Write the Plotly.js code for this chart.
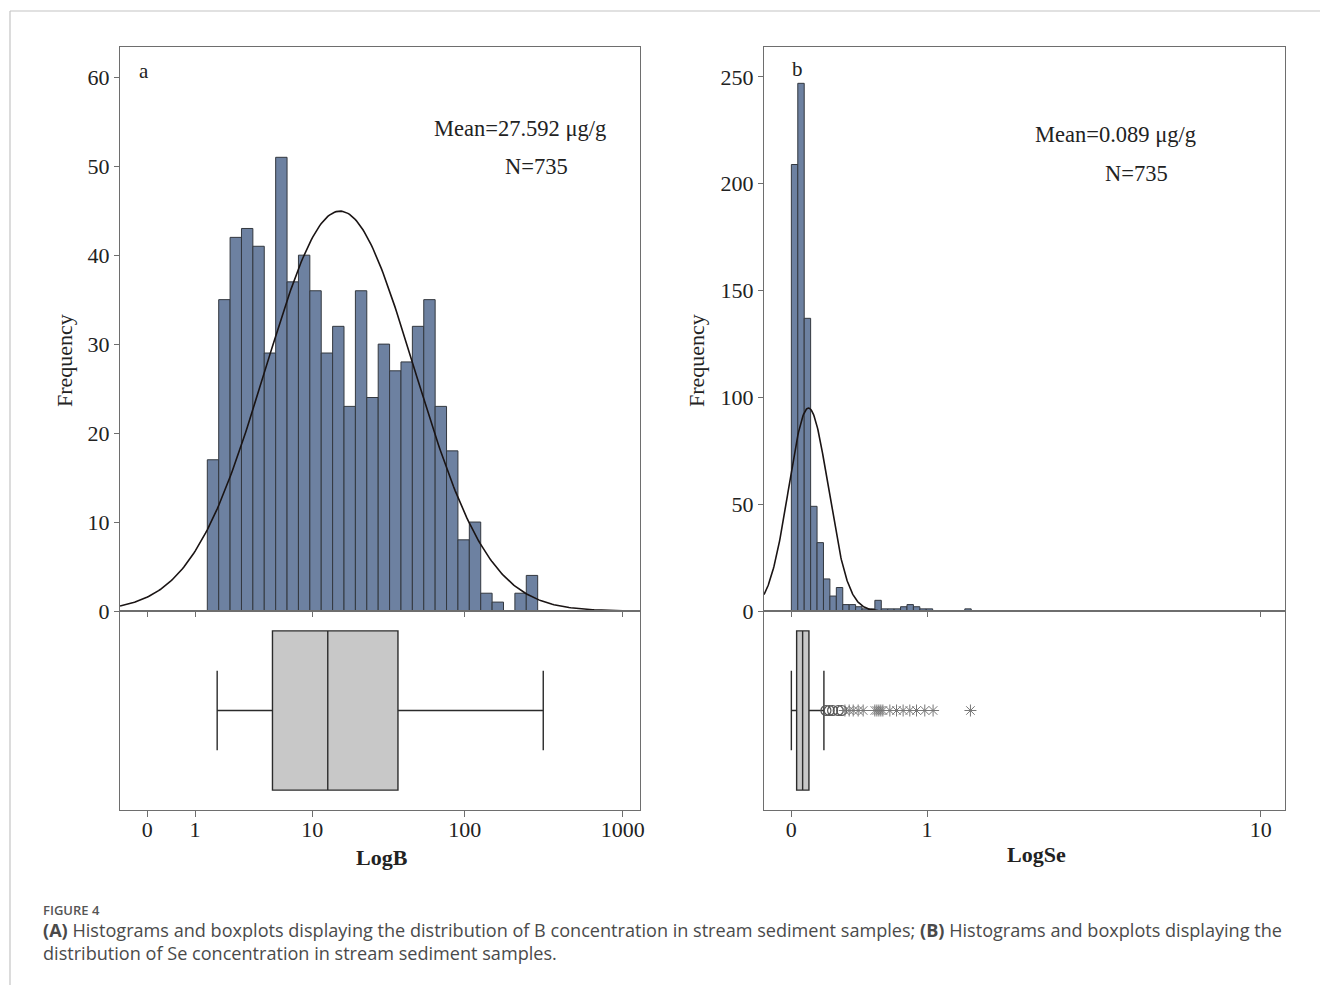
<!DOCTYPE html>
<html>
<head>
<meta charset="utf-8">
<script src="https://cdn.plot.ly/plotly-3.0.1.min.js"></script>
<style>
html,body{margin:0;padding:0;background:#fff;}
#chart{width:1320px;height:985px;}
</style>
</head>
<body>
<div id="chart"></div>
<script>
// ---------- data ----------
// Axis values are log10(value + 1); tick labels show the raw concentration.
const xTickLabelsB = ["0", "1", "10", "100", "1000"];
const xTickLabelsSe = ["0", "1", "10"];
const yTicksB = [0, 10, 20, 30, 40, 50, 60];
const yTicksSe = [0, 50, 100, 150, 200, 250];

// B histogram (29 equal bins in log units)
const bBinStart = 0.3787;
const bBinWidth = 0.0719;
const bCounts = [17, 35, 42, 43, 41, 29, 51, 37, 40, 36, 29, 32, 23, 36, 24, 30, 27, 28, 32, 35, 23, 18, 8, 10, 2, 1, 0, 2, 4];

// Se histogram (28 equal bins in log units)
const seBinStart = 0.0;
const seBinWidth = 0.01425;
const seCounts = [209, 247, 137, 49, 32, 15, 7, 11, 3, 3, 2, 1, 1, 5, 1, 1, 1, 2, 3, 2, 1, 1, 0, 0, 0, 0, 0, 1];

// fitted normal curves (log units)
const bNormal = {mean: 1.216, sd: 0.469, from: -0.172, to: 3.0};
const seNormal = {mean: 0.038, sd: 0.044, from: -0.0607, to: 0.31};
const sampleN = 735;

// box statistics (log units): lower whisker, Q1, median, Q3, upper whisker
const bBox = [0.441, 0.790, 1.139, 1.582, 2.499];
const seBox = [0.0, 0.0117, 0.025, 0.039, 0.0722];
const seOutliersMild = [0.0767, 0.0840, 0.0915, 0.1039, 0.1115];
const seOutliersExtreme = [0.1188, 0.1283, 0.1372, 0.1482, 0.1593, 0.1852, 0.1897, 0.1941, 0.1985, 0.2030, 0.2185, 0.2333, 0.2479, 0.2628, 0.2776, 0.2960, 0.3144, 0.3973];

const meanTextB = "Mean=27.592 μg/g";
const meanTextSe = "Mean=0.089 μg/g";
const nText = "N=735";
const yTitle = "Frequency";
const xTitleB = "LogB";
const xTitleSe = "LogSe";

// ---------- helpers ----------
const W = 1320, H = 985;
const px = x => x / W;
const py = y => 1 - y / H;
const toLog = v => Math.log10(v + 1);

function centers(start, w, n) { const a = []; for (let i = 0; i < n; i++) a.push(start + (i + 0.5) * w); return a; }
function normalCurve(p, w) {
  const xs = [], ys = [];
  const steps = 300;
  for (let i = 0; i <= steps; i++) {
    const x = p.from + (p.to - p.from) * i / steps;
    const z = (x - p.mean) / p.sd;
    xs.push(x);
    ys.push(sampleN * w * Math.exp(-0.5 * z * z) / (p.sd * Math.sqrt(2 * Math.PI)));
  }
  return {xs, ys};
}

const SERIF = "Liberation Serif, Times New Roman, serif";
const barFill = "#6d81a1";
const barLine = "#33383f";
const frame = "#6e6e6e";
const curveColor = "#1a1414";

const bCurve = normalCurve(bNormal, bBinWidth);
const seCurve = normalCurve(seNormal, seBinWidth);

const traces = [
  {type: "bar", x: centers(bBinStart, bBinWidth, bCounts.length), y: bCounts, width: bBinWidth,
   marker: {color: barFill, line: {color: barLine, width: 1}}, xaxis: "x", yaxis: "y", hoverinfo: "y"},
  {type: "scatter", mode: "lines", x: bCurve.xs, y: bCurve.ys, line: {color: curveColor, width: 1.6},
   xaxis: "x", yaxis: "y", hoverinfo: "skip"},
  {type: "box", orientation: "h", y: [0], q1: [bBox[1]], median: [bBox[2]], q3: [bBox[3]],
   lowerfence: [bBox[0]], upperfence: [bBox[4]], width: 1.6, whiskerwidth: 0.5,
   fillcolor: "#c8c8c8", line: {color: "#2b2b2b", width: 1.4}, boxpoints: false,
   xaxis: "x2", yaxis: "y2"},

  {type: "bar", x: centers(seBinStart, seBinWidth, seCounts.length), y: seCounts, width: seBinWidth,
   marker: {color: barFill, line: {color: barLine, width: 1}}, xaxis: "x3", yaxis: "y3", hoverinfo: "y"},
  {type: "scatter", mode: "lines", x: seCurve.xs, y: seCurve.ys, line: {color: curveColor, width: 1.6},
   xaxis: "x3", yaxis: "y3", hoverinfo: "skip"},
  {type: "box", orientation: "h", y: [0], q1: [seBox[1]], median: [seBox[2]], q3: [seBox[3]],
   lowerfence: [seBox[0]], upperfence: [seBox[4]], width: 1.6, whiskerwidth: 0.5,
   fillcolor: "#c8c8c8", line: {color: "#2b2b2b", width: 1.4}, boxpoints: false,
   xaxis: "x4", yaxis: "y4"},
  {type: "scatter", mode: "markers", x: seOutliersMild, y: seOutliersMild.map(() => 0),
   marker: {symbol: "circle-open", size: 10, color: "#555", line: {width: 1.2, color: "#555"}},
   xaxis: "x4", yaxis: "y4"},
  {type: "scatter", mode: "markers", x: seOutliersExtreme, y: seOutliersExtreme.map(() => 0),
   marker: {symbol: "asterisk-open", size: 10, color: "#777", line: {width: 1, color: "#777"}},
   xaxis: "x4", yaxis: "y4"}
];

const tickFont = {family: SERIF, size: 22, color: "#222"};

function histX(domain, range, tickLabels) {
  return {domain, range, tickvals: tickLabels.map(t => toLog(Number(t))),
    ticktext: tickLabels, showticklabels: false, ticks: "outside", ticklen: 5, tickcolor: frame,
    showline: true, linecolor: frame, linewidth: 1, mirror: true, showgrid: false, zeroline: false, fixedrange: true};
}
function histY(domain, range, ticks) {
  return {domain, range, tickvals: ticks, ticks: "outside", ticklen: 5, tickcolor: frame,
    tickfont: tickFont, showline: true, linecolor: frame, linewidth: 1, mirror: true,
    showgrid: false, zeroline: false, fixedrange: true};
}
function boxX(domain, range, tickLabels, match) {
  return {domain, range, matches: match, tickvals: tickLabels.map(t => toLog(Number(t))), ticktext: tickLabels,
    ticks: "outside", ticklen: 6, tickcolor: frame, tickfont: tickFont, ticklabelstandoff: -6,
    showline: true, linecolor: frame, linewidth: 1, mirror: true, showgrid: false, zeroline: false,
    fixedrange: true};
}
function boxY(domain) {
  return {domain, range: [-1, 1], showticklabels: false, ticks: "", showline: true, linecolor: frame,
    linewidth: 1, mirror: true, showgrid: false, zeroline: false, fixedrange: true};
}

const leftDom = [px(120), px(640)];
const rightDom = [px(764), px(1285)];
const histDom = [py(611), py(47)];
const boxDom = [py(810), py(611)];
const bRange = [-0.1723, 3.1096];
const seRange = [-0.0607, 1.0951];

const xa = histX(leftDom, bRange, xTickLabelsB); xa.anchor = "y";
const ya = histY(histDom, [0, 63.4], yTicksB); ya.anchor = "x";
const xa2 = boxX(leftDom, bRange, xTickLabelsB, "x"); xa2.anchor = "y2";
const ya2 = boxY(boxDom); ya2.anchor = "x2";
const xa3 = histX(rightDom, seRange, xTickLabelsSe); xa3.anchor = "y3";
const ya3 = histY(histDom, [0, 264], yTicksSe); ya3.anchor = "x3";
const xa4 = boxX(rightDom, seRange, xTickLabelsSe, "x3"); xa4.anchor = "y4";
const ya4 = boxY(boxDom); ya4.anchor = "x4";

function ann(text, x, y, size, opts) {
  return Object.assign({text, x: px(x), y: py(y), xref: "paper", yref: "paper", showarrow: false,
    xanchor: "center", yanchor: "middle", font: {family: SERIF, size: size, color: "#222"}}, opts || {});
}
const capFont = {family: "Open Sans, Noto Sans, sans-serif", size: 18.1, color: "#4a4a4a"};

const layout = {
  width: W, height: H, margin: {l: 0, r: 0, t: 0, b: 0},
  paper_bgcolor: "#fff", plot_bgcolor: "#fff", showlegend: false,
  xaxis: xa, yaxis: ya, xaxis2: xa2, yaxis2: ya2, xaxis3: xa3, yaxis3: ya3, xaxis4: xa4, yaxis4: ya4,
  annotations: [
    ann(yTitle, 64, 361, 22, {textangle: -90}),
    ann(yTitle, 696, 360, 22, {textangle: -90}),
    ann("<b>" + xTitleB + "</b>", 382, 857, 22),
    ann("<b>" + xTitleSe + "</b>", 1036, 854, 22),
    ann("a", 144, 71, 21),
    ann("b", 797, 69, 21),
    ann(meanTextB, 520, 128, 22.5),
    ann(nText, 536, 166, 22.5),
    ann(meanTextSe, 1115, 135, 22.5),
    ann(nText, 1136, 173, 22.5),
    {text: "FIGURE 4", x: px(41), y: py(910), xref: "paper", yref: "paper", showarrow: false,
     xanchor: "left", yanchor: "middle", font: {family: "Open Sans, Noto Sans, sans-serif", size: 13, color: "#555", weight: 600}},
    {text: "<b>(A)</b> Histograms and boxplots displaying the distribution of B concentration in stream sediment samples; <b>(B)</b> Histograms and boxplots displaying the",
     x: px(41), y: py(930), xref: "paper", yref: "paper", showarrow: false, xanchor: "left", yanchor: "middle", font: capFont},
    {text: "distribution of Se concentration in stream sediment samples.",
     x: px(41), y: py(953), xref: "paper", yref: "paper", showarrow: false, xanchor: "left", yanchor: "middle", font: capFont}
  ],
  shapes: [
    {type: "line", xref: "paper", yref: "paper", x0: px(10), x1: 1, y0: py(11), y1: py(11), line: {color: "#c4c4c4", width: 1.2}},
    {type: "line", xref: "paper", yref: "paper", x0: px(10), x1: px(10), y0: py(11), y1: 0, line: {color: "#c4c4c4", width: 1.2}}
  ]
};

Plotly.newPlot("chart", traces, layout, {displayModeBar: false, staticPlot: true});
</script>
</body>
</html>
